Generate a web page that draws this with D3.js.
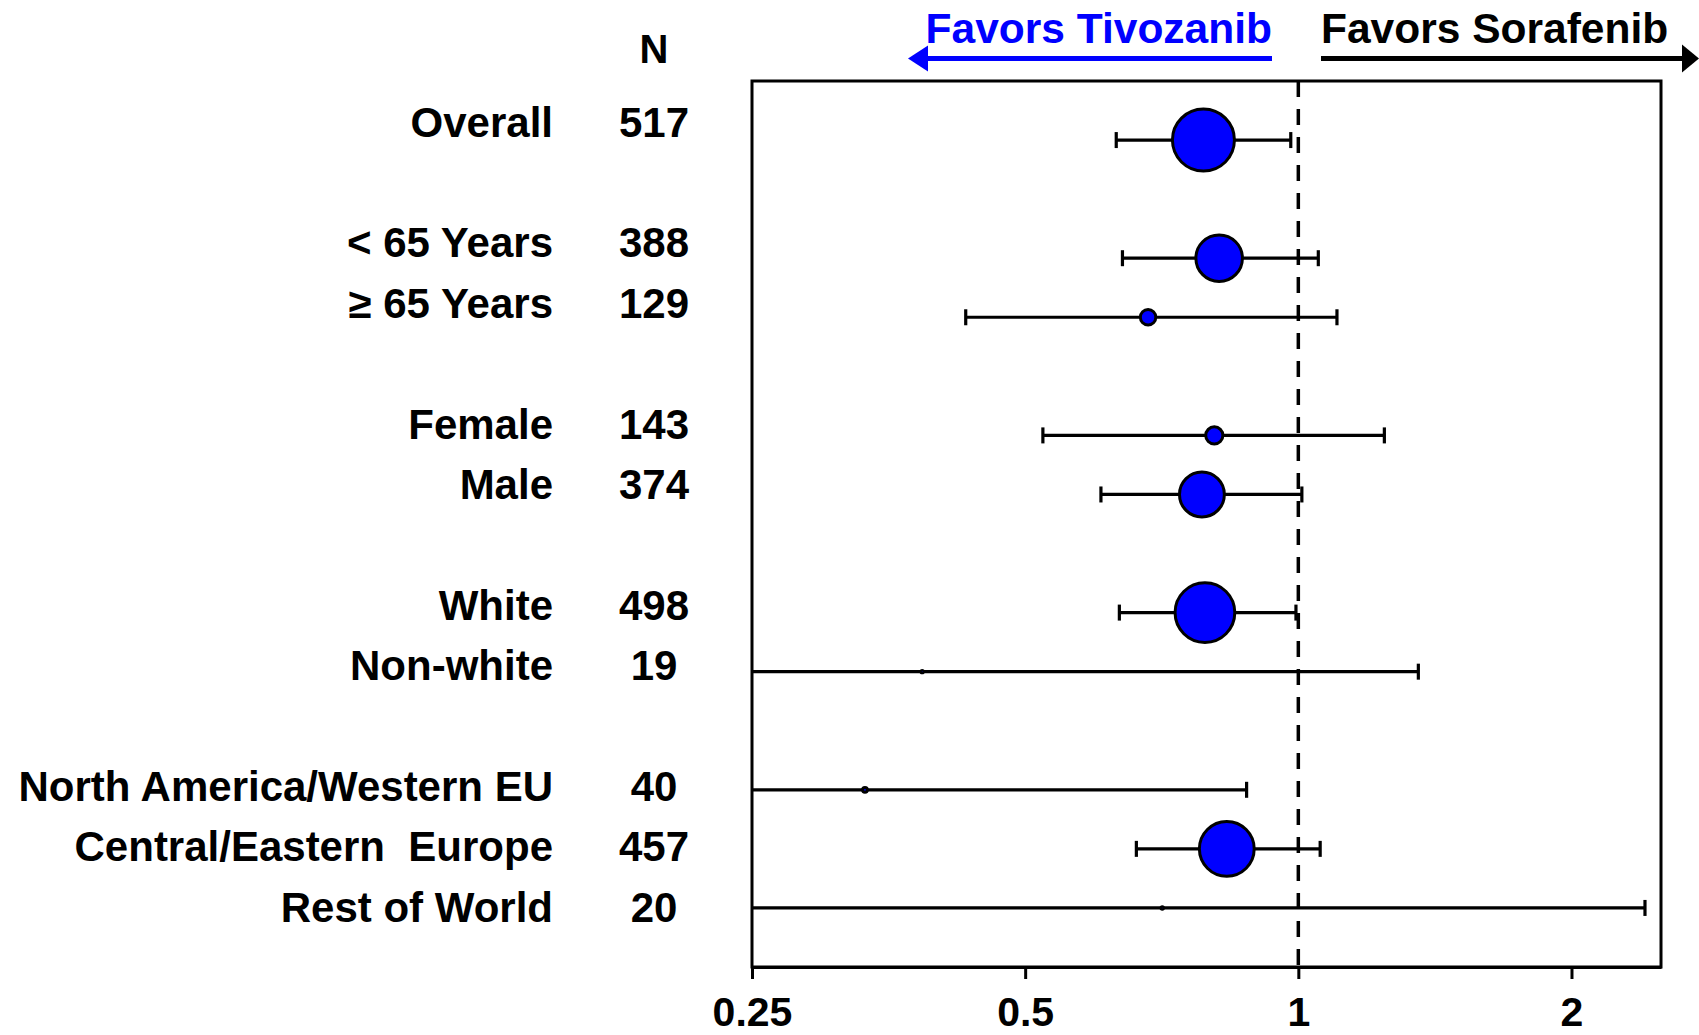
<!DOCTYPE html>
<html>
<head>
<meta charset="utf-8">
<script src="https://cdn.jsdelivr.net/npm/d3@7"></script>
<style>
  html, body { margin: 0; padding: 0; background: #fff; }
  svg { display: block; }
  text { font-family: "Liberation Sans", Arial, Helvetica, sans-serif; font-weight: bold; }
</style>
</head>
<body>
<script>
// Subgroup forest plot: hazard ratio (tivozanib vs sorafenib) with 95% CI
const subgroups = ["Overall", "< 65 Years", "\u2265 65 Years", "Female", "Male",
  "White", "Non-white", "North America/Western EU", "Central/Eastern\u00a0 Europe", "Rest of World"];
const rowIndex = [0, 2, 3, 5, 6, 8, 9, 11, 12, 13];
const counts = [517, 388, 129, 143, 374, 498, 19, 40, 457, 20];
const hazardRatio = [0.786, 0.818, 0.683, 0.808, 0.783, 0.789, 0.385, 0.333, 0.834, 0.708];
const ciLower = [0.630, 0.640, 0.430, 0.523, 0.606, 0.635, 0.12, 0.10, 0.663, 0.15];
const ciUpper = [0.981, 1.052, 1.103, 1.244, 1.009, 0.994, 1.356, 0.877, 1.057, 2.41];
const axisTicks = [0.25, 0.5, 1, 2];
const headerLeft = "Favors Tivozanib";
const headerRight = "Favors Sorafenib";

const W = 1699, H = 1035;
const plot = { left: 752, right: 1661, top: 81, bottom: 967 };

const svg = d3.select("body").append("svg").attr("width", W).attr("height", H);

const x = d3.scaleLog().base(2).domain([0.25, 2.51]).range([plot.left, plot.right]);
const y = d3.scaleLinear().domain([-1, 14]).range([plot.top, plot.bottom]);
const labelY = d3.scaleLinear().domain([0, 13]).range([136.7, 921.7]);
const r = d3.scaleLinear().domain([0, 517]).range([0, 31]);
const clampX = v => x(Math.max(x.domain()[0], Math.min(x.domain()[1], v)));

const rows = subgroups.map((name, i) => ({
  name, row: rowIndex[i], n: counts[i], hr: hazardRatio[i], lo: ciLower[i], hi: ciUpper[i]
}));

// Plot frame
svg.append("rect")
  .attr("x", plot.left).attr("y", plot.top)
  .attr("width", plot.right - plot.left).attr("height", plot.bottom - plot.top)
  .attr("fill", "none").attr("stroke", "#000").attr("stroke-width", 3);

// Line of no effect
svg.append("line")
  .attr("x1", x(1)).attr("x2", x(1))
  .attr("y1", plot.top).attr("y2", plot.bottom)
  .attr("stroke", "#000").attr("stroke-width", 3.5)
  .attr("stroke-dasharray", "16,12");

// Bottom axis
const axis = svg.append("g")
  .attr("transform", `translate(0,${plot.bottom})`)
  .call(d3.axisBottom(x).tickValues(axisTicks).tickFormat(d => d)
    .tickSize(12).tickSizeOuter(0).tickPadding(18));
axis.select(".domain").attr("stroke-width", 3);
axis.selectAll(".tick line").attr("stroke-width", 3);
axis.selectAll(".tick text")
  .attr("fill", "#000")
  .style("font-family", "'Liberation Sans', Arial, sans-serif")
  .style("font-weight", "bold").style("font-size", "41px");

// Confidence intervals
const g = svg.append("g");
g.selectAll("line.ci").data(rows).join("line")
  .attr("class", "ci")
  .attr("x1", d => clampX(d.lo)).attr("x2", d => clampX(d.hi))
  .attr("y1", d => y(d.row)).attr("y2", d => y(d.row))
  .attr("stroke", "#000").attr("stroke-width", 3.2);

const caps = [];
rows.forEach(d => {
  [d.lo, d.hi].forEach(v => {
    if (v >= x.domain()[0] && v <= x.domain()[1]) caps.push({ v, row: d.row });
  });
});
g.selectAll("line.cap").data(caps).join("line")
  .attr("class", "cap")
  .attr("x1", d => x(d.v)).attr("x2", d => x(d.v))
  .attr("y1", d => y(d.row) - 8).attr("y2", d => y(d.row) + 8)
  .attr("stroke", "#000").attr("stroke-width", 3.2);

// Point estimates, sized by number of patients
g.selectAll("circle").data(rows).join("circle")
  .attr("cx", d => x(d.hr)).attr("cy", d => y(d.row))
  .attr("r", d => r(d.n))
  .attr("fill", "#0000ff").attr("stroke", "#000").attr("stroke-width", 3);

// Subgroup labels and patient counts
svg.selectAll("text.label").data(rows).join("text")
  .attr("class", "label")
  .attr("x", 553).attr("y", d => labelY(d.row))
  .attr("text-anchor", "end").attr("font-size", 42).attr("fill", "#000")
  .text(d => d.name);

svg.selectAll("text.count").data(rows).join("text")
  .attr("class", "count")
  .attr("x", 654).attr("y", d => labelY(d.row))
  .attr("text-anchor", "middle").attr("font-size", 42).attr("fill", "#000")
  .text(d => d.n);

svg.append("text")
  .attr("x", 654).attr("y", 63)
  .attr("text-anchor", "middle").attr("font-size", 40).attr("fill", "#000")
  .text("N");

// Direction headers with arrows
const arrowY = 58.5;
svg.append("text")
  .attr("x", 1272).attr("y", 43)
  .attr("text-anchor", "end").attr("font-size", 42.5).attr("fill", "#0000ff")
  .text(headerLeft);
svg.append("line")
  .attr("x1", 925).attr("x2", 1272).attr("y1", arrowY).attr("y2", arrowY)
  .attr("stroke", "#0000ff").attr("stroke-width", 5);
svg.append("path")
  .attr("d", `M908,${arrowY} L928,${arrowY - 13} L928,${arrowY + 13} Z`)
  .attr("fill", "#0000ff");

svg.append("text")
  .attr("x", 1321).attr("y", 43)
  .attr("text-anchor", "start").attr("font-size", 42.5).attr("fill", "#000")
  .text(headerRight);
svg.append("line")
  .attr("x1", 1321).attr("x2", 1686).attr("y1", arrowY).attr("y2", arrowY)
  .attr("stroke", "#000").attr("stroke-width", 5);
svg.append("path")
  .attr("d", `M1699,${arrowY} L1682,${arrowY - 14} L1682,${arrowY + 14} Z`)
  .attr("fill", "#000");
</script>
</body>
</html>
